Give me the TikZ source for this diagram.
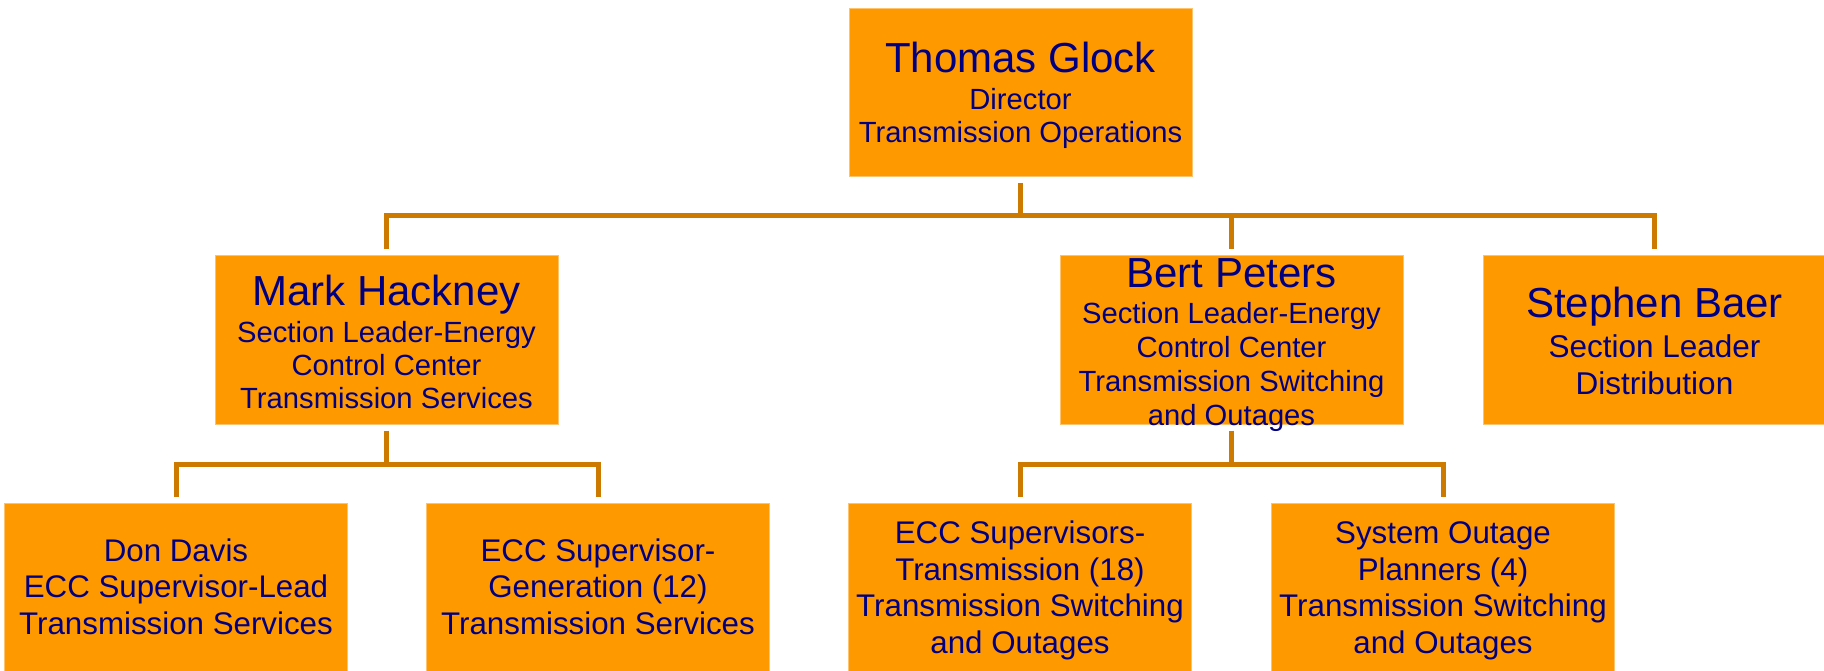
\documentclass[tikz,border=0pt]{standalone}
\usepackage{fontspec}
\setmainfont{Liberation Sans}
\definecolor{boxfill}{HTML}{FF9900}
\definecolor{boxedge}{HTML}{FFC46B}
\definecolor{conncol}{HTML}{CC7A00}
\definecolor{txtcol}{HTML}{000080}
\newcommand\bossname[1]{{\fontsize{42}{42}\selectfont #1}}
\begin{document}
\begin{tikzpicture}[x=1pt,y=-1pt,
  orgbox/.style={rectangle, fill=boxfill, draw=boxedge, line width=1pt,
    minimum width=343pt, minimum height=168pt, inner sep=0pt},
  conn/.style={draw=conncol, line width=5pt, line join=miter},
  txt/.style={text=txtcol, align=center, anchor=base, inner sep=0pt},
  midfont/.style={font=\fontsize{29.2}{33}\selectfont},
  lowfont/.style={font=\fontsize{31.3}{36.5}\selectfont}
]
\useasboundingbox (0,0) rectangle (1824,671);
% boxes
\node[orgbox] (top) at (1020.5,92.5) {};
\node[orgbox] (mark) at (386.5,340) {};
\node[orgbox] (bert) at (1231.5,340) {};
\node[orgbox] (stephen) at (1654.5,340) {};
\node[orgbox] (don) at (176,587) {};
\node[orgbox] (gen) at (598,587) {};
\node[orgbox] (trans) at (1020,587) {};
\node[orgbox] (outage) at (1443,587) {};
% texts (anchored at the baseline of the last line)
\node[txt, midfont] (topT) at (1020.5,143)
  {\bossname{Thomas Glock}\\[4pt] Director\\ Transmission Operations};
\node[txt, midfont] (markT) at (386.5,408)
  {\bossname{Mark Hackney}\\[4pt] Section Leader-Energy\\ Control Center\\ Transmission Services};
\node[txt, font=\fontsize{29.2}{34}\selectfont] (bertT) at (1231.5,425)
  {\bossname{Bert Peters}\\[2pt] Section Leader-Energy\\ Control Center\\ Transmission Switching\\ and Outages};
\node[txt, font=\fontsize{31.5}{37}\selectfont] (stephenT) at (1654.5,394)
  {\bossname{Stephen Baer}\\[3pt] Section Leader\\ Distribution};
\node[txt, lowfont] (donT) at (176,634)
  {Don Davis\\ ECC Supervisor-Lead\\ Transmission Services};
\node[txt, lowfont] (genT) at (598,634)
  {ECC Supervisor-\\ Generation (12)\\ Transmission Services};
\node[txt, lowfont] (transT) at (1020,653)
  {ECC Supervisors-\\ Transmission (18)\\ Transmission Switching\\ and Outages};
\node[txt, lowfont] (outageT) at (1443,653)
  {System Outage\\ Planners (4)\\ Transmission Switching\\ and Outages};
% connector levels
\coordinate (bar1) at (1020.5,216);
\coordinate (bar2) at (386.5,464);
\coordinate (bar3) at (1231.5,464);
% connectors
\draw[conn] ([yshift=-6pt]top.south) -- (top.south |- bar1);
\draw[conn] ([yshift=6pt]mark.north) -- (mark.north |- bar1) -- (stephen.north |- bar1) -- ([yshift=6pt]stephen.north);
\draw[conn] (bert.north |- bar1) -- ([yshift=6pt]bert.north);
\draw[conn] ([yshift=-6pt]mark.south) -- (bar2);
\draw[conn] ([yshift=6pt]don.north) -- (don.north |- bar2) -- (gen.north |- bar2) -- ([yshift=6pt]gen.north);
\draw[conn] ([yshift=-6pt]bert.south) -- (bar3);
\draw[conn] ([yshift=6pt]trans.north) -- (trans.north |- bar3) -- (outage.north |- bar3) -- ([yshift=6pt]outage.north);
\end{tikzpicture}
\end{document}
